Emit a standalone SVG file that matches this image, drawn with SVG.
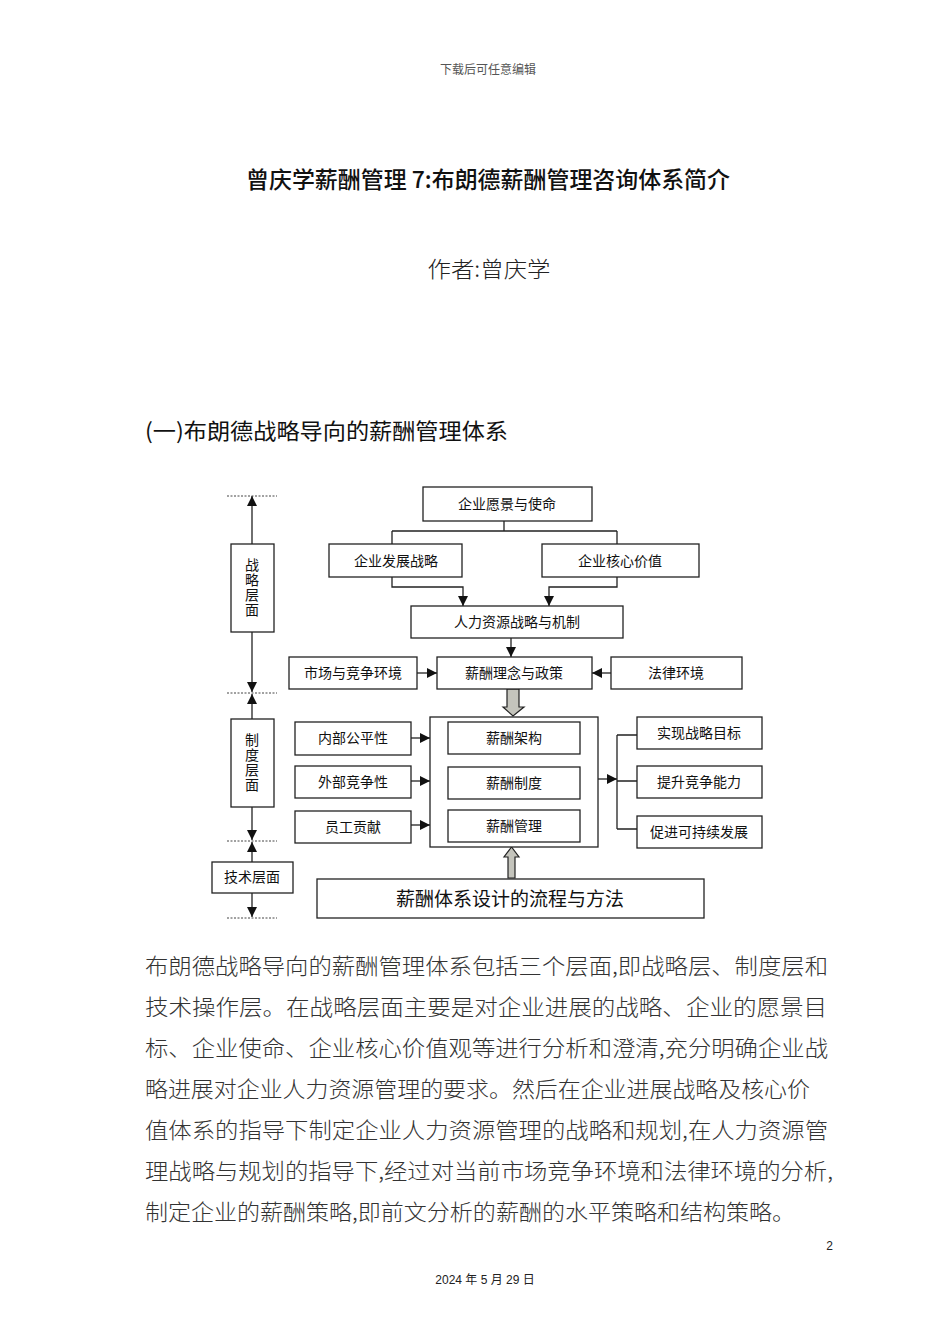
<svg xmlns="http://www.w3.org/2000/svg" width="950" height="1344" viewBox="0 0 950 1344">
<style>
.bx{fill:#fff;stroke:#222;stroke-width:1.3}
.ln{fill:none;stroke:#222;stroke-width:1.3}
.dot{fill:none;stroke:#444;stroke-width:1;stroke-dasharray:2,1.5}
.t{font-family:"Noto Sans CJK SC","Noto Sans",sans-serif;font-size:14px;fill:#111;text-anchor:middle}
.v{font-family:"Noto Sans CJK SC","Noto Sans",sans-serif;font-size:14px;fill:#111;text-anchor:middle;writing-mode:vertical-rl;letter-spacing:1px}
.p{font-family:"Noto Sans CJK SC","Noto Sans",sans-serif;font-size:22px;fill:#333;font-weight:300}
.fat{fill:#c4c4bc;stroke:#222;stroke-width:1.2}
</style>
<defs>
<marker id="ah" markerUnits="userSpaceOnUse" markerWidth="10" markerHeight="10" viewBox="0 0 10 10" refX="10" refY="5" orient="auto">
<path d="M0,0 L10,5 L0,10 z" fill="#111"/>
</marker>
</defs>
<rect width="950" height="1344" fill="#fff"/>
<text x="488" y="74" style="font-family:'Liberation Serif','Noto Sans CJK SC',serif;font-size:12px;fill:#555;text-anchor:middle">下载后可任意编辑</text>
<text x="488" y="188" textLength="484" lengthAdjust="spacingAndGlyphs" style="font-family:'Noto Sans CJK SC',sans-serif;font-size:23px;fill:#111;font-weight:500;text-anchor:middle">曾庆学薪酬管理 7:布朗德薪酬管理咨询体系简介</text>
<text x="489" y="277" textLength="123" lengthAdjust="spacingAndGlyphs" style="font-family:'Noto Sans CJK SC',sans-serif;font-size:22px;fill:#222;font-weight:300;text-anchor:middle">作者:曾庆学</text>
<text x="145" y="439" textLength="363" lengthAdjust="spacingAndGlyphs" style="font-family:'Noto Sans CJK SC',sans-serif;font-size:22px;fill:#111">(一)布朗德战略导向的薪酬管理体系</text>

<g id="connectors">
<path class="ln" d="M504,521 V531 M392,531 H617 M392,531 V544 M617,531 V544"/>
<path class="ln" d="M392,577 V587 H463 V606" marker-end="url(#ah)"/>
<path class="ln" d="M617,577 V587 H549 V606" marker-end="url(#ah)"/>
<path class="ln" d="M511,638 V657" marker-end="url(#ah)"/>
<path class="ln" d="M417,673 H437" marker-end="url(#ah)"/>
<path class="ln" d="M611,673 H592" marker-end="url(#ah)"/>
<path class="ln" d="M511,754 V767" marker-end="url(#ah)"/>
<path class="ln" d="M511,799 V810" marker-end="url(#ah)"/>
<path class="ln" d="M411,738 H430" marker-end="url(#ah)"/>
<path class="ln" d="M411,781 H430" marker-end="url(#ah)"/>
<path class="ln" d="M411,825 H430" marker-end="url(#ah)"/>
<path class="ln" d="M598,779 H617" marker-end="url(#ah)"/>
<path class="ln" d="M617,735 V829 M617,735 H637 M617,781 H637 M617,829 H637"/>
<polygon class="fat" points="507,689 519,689 519,707 524,707 513,716 503,707 507,707"/>
<polygon class="fat" points="508,878 515,878 515,857 519,857 511.5,847 504,857 508,857"/>
<path class="ln" d="M252,544 V496" marker-end="url(#ah)"/>
<path class="ln" d="M252,632 V692" marker-end="url(#ah)"/>
<path class="ln" d="M252,719 V694" marker-end="url(#ah)"/>
<path class="ln" d="M252,807 V840" marker-end="url(#ah)"/>
<path class="ln" d="M252,862 V842" marker-end="url(#ah)"/>
<path class="ln" d="M252,893 V917" marker-end="url(#ah)"/>
<path class="dot" d="M227,496 H277 M227,693 H277 M227,841 H277 M227,918 H277"/>
</g>

<g id="n-vision"><rect class="bx" x="423" y="487" width="169" height="34"/><text class="t" x="507" y="509">企业愿景与使命</text></g>
<g id="n-strategy"><rect class="bx" x="329" y="544" width="133" height="33"/><text class="t" x="396" y="566">企业发展战略</text></g>
<g id="n-core"><rect class="bx" x="542" y="544" width="157" height="33"/><text class="t" x="620" y="566">企业核心价值</text></g>
<g id="n-hr"><rect class="bx" x="411" y="606" width="212" height="32"/><text class="t" x="517" y="627">人力资源战略与机制</text></g>
<g id="n-market"><rect class="bx" x="289" y="657" width="128" height="32"/><text class="t" x="353" y="678">市场与竞争环境</text></g>
<g id="n-concept"><rect class="bx" x="437" y="657" width="155" height="32"/><text class="t" x="514" y="678">薪酬理念与政策</text></g>
<g id="n-law"><rect class="bx" x="611" y="657" width="131" height="32"/><text class="t" x="676" y="678">法律环境</text></g>
<g id="n-big"><rect class="bx" x="430" y="717" width="168" height="130"/></g>
<g id="n-arch"><rect class="bx" x="448" y="722" width="132" height="32"/><text class="t" x="514" y="743">薪酬架构</text></g>
<g id="n-sys"><rect class="bx" x="448" y="767" width="132" height="32"/><text class="t" x="514" y="788">薪酬制度</text></g>
<g id="n-mgmt"><rect class="bx" x="448" y="810" width="132" height="32"/><text class="t" x="514" y="831">薪酬管理</text></g>
<g id="n-internal"><rect class="bx" x="295" y="722" width="116" height="33"/><text class="t" x="353" y="743">内部公平性</text></g>
<g id="n-external"><rect class="bx" x="295" y="766" width="116" height="32"/><text class="t" x="353" y="787">外部竞争性</text></g>
<g id="n-contrib"><rect class="bx" x="295" y="811" width="116" height="32"/><text class="t" x="353" y="832">员工贡献</text></g>
<g id="n-goal"><rect class="bx" x="637" y="717" width="125" height="32"/><text class="t" x="699" y="738">实现战略目标</text></g>
<g id="n-compete"><rect class="bx" x="637" y="766" width="125" height="32"/><text class="t" x="699" y="787">提升竞争能力</text></g>
<g id="n-sustain"><rect class="bx" x="637" y="816" width="125" height="32"/><text class="t" x="699" y="837">促进可持续发展</text></g>
<g id="n-design"><rect class="bx" x="317" y="879" width="387" height="39"/><text class="t" x="510" y="906" style="font-size:19px">薪酬体系设计的流程与方法</text></g>
<g id="n-l1"><rect class="bx" x="231" y="544" width="43" height="88"/><text class="v" x="252" y="588">战略层面</text></g>
<g id="n-l2"><rect class="bx" x="231" y="719" width="43" height="88"/><text class="v" x="252" y="763">制度层面</text></g>
<g id="n-l3"><rect class="bx" x="212" y="862" width="81" height="31"/><text class="t" x="252" y="882">技术层面</text></g>

<text class="p" x="145" y="974" textLength="683" lengthAdjust="spacingAndGlyphs">布朗德战略导向的薪酬管理体系包括三个层面,即战略层、制度层和</text>
<text class="p" x="145" y="1015" textLength="682" lengthAdjust="spacingAndGlyphs">技术操作层。在战略层面主要是对企业进展的战略、企业的愿景目</text>
<text class="p" x="145" y="1056" textLength="683" lengthAdjust="spacingAndGlyphs">标、企业使命、企业核心价值观等进行分析和澄清,充分明确企业战</text>
<text class="p" x="145" y="1097" textLength="665" lengthAdjust="spacingAndGlyphs">略进展对企业人力资源管理的要求。然后在企业进展战略及核心价</text>
<text class="p" x="145" y="1138" textLength="683" lengthAdjust="spacingAndGlyphs">值体系的指导下制定企业人力资源管理的战略和规划,在人力资源管</text>
<text class="p" x="145" y="1179" textLength="688" lengthAdjust="spacingAndGlyphs">理战略与规划的指导下,经过对当前市场竞争环境和法律环境的分析,</text>
<text class="p" x="145" y="1220" textLength="650" lengthAdjust="spacingAndGlyphs">制定企业的薪酬策略,即前文分析的薪酬的水平策略和结构策略。</text>
<text x="833" y="1250" style="font-family:'Liberation Sans',sans-serif;font-size:12px;fill:#222;text-anchor:end">2</text>
<text x="485" y="1284" style="font-family:'Liberation Sans','Noto Sans CJK SC',sans-serif;font-size:12px;fill:#222;text-anchor:middle">2024 年 5 月 29 日</text>
</svg>
